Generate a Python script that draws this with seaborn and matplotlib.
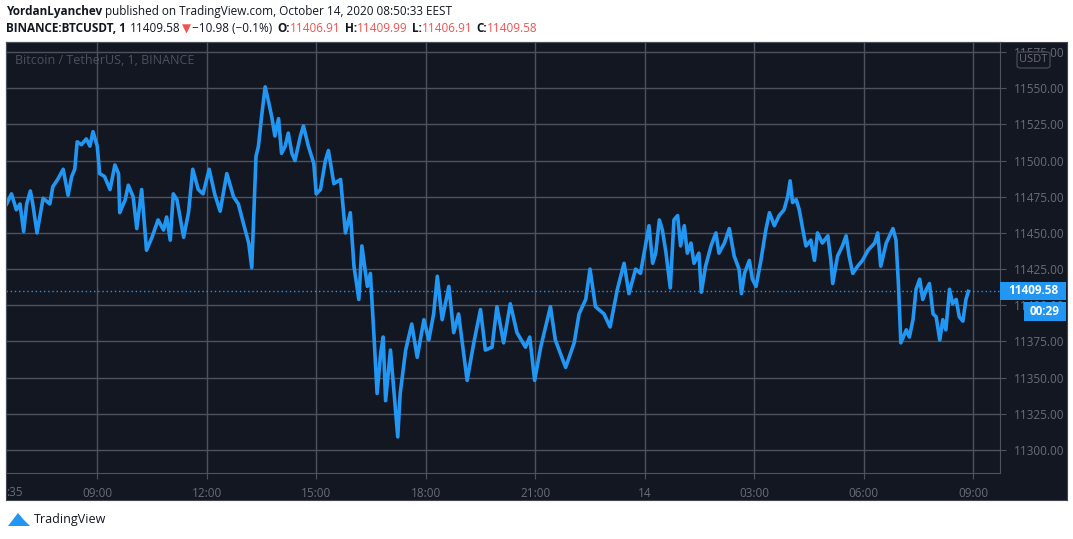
import numpy as np
import pandas as pd
import matplotlib
matplotlib.use("Agg")
import matplotlib.pyplot as plt
from matplotlib.patches import Rectangle, FancyBboxPatch
import seaborn as sns

# Oct 13 (HH:MM) and prices
times13 = ["06:31","06:39","06:47","06:53","06:59","07:04","07:10","07:14","07:21","07:31","07:42","07:47","07:55",
           "08:04","08:12","08:18","08:23","08:27","08:34","08:42","08:48","08:53","09:00","09:04","09:12","09:21",
           "09:29","09:35","09:37","09:46","09:51","09:59","10:05","10:13","10:21","10:30","10:40","10:49","10:54",
           "11:00","11:05","11:11","11:22","11:30","11:37","11:46","11:54","12:04","12:13","12:22","12:33","12:44",
           "12:52","13:00","13:09","13:14","13:18","13:21","13:25","13:30","13:36","13:42","13:47","13:52","13:58",
           "14:03","14:09","14:14","14:20","14:25","14:34","14:39","14:47","14:56","15:00","15:07","15:15","15:20",
           "15:29","15:40","15:48","15:56","16:02","16:10","16:15","16:24","16:29","16:35","16:40","16:46","16:50",
           "16:54","17:02","17:07","17:14","17:18","17:27","17:37","17:46","17:57","18:05","18:13","18:19","18:27",
           "18:38","18:46","18:54","19:08","19:19","19:30","19:38","19:49","19:57","20:08","20:19","20:30","20:44",
           "20:51","20:59","21:09","21:25","21:33","21:50","22:04","22:12","22:23","22:30","22:39","22:53","23:03",
           "23:15","23:26","23:34","23:45","23:53"]
prices13 = [11470,11477,11466,11470,11451,11470,11479,11470,11450,11474,11470,11482,11487,
            11494,11476,11489,11494,11513,11511,11515,11510,11520,11510,11491,11489,11480,
            11497,11491,11464,11473,11483,11475,11453,11480,11438,11447,11459,11452,11461,
            11445,11477,11473,11447,11464,11494,11480,11477,11494,11477,11465,11491,11475,
            11470,11457,11443,11426,11470,11503,11510,11530,11551,11540,11530,11517,11529,
            11505,11510,11519,11505,11500,11517,11524,11510,11498,11477,11480,11500,11507,
            11484,11487,11450,11464,11427,11404,11441,11413,11422,11378,11339,11367,11378,
            11334,11369,11344,11309,11339,11369,11387,11364,11390,11376,11394,11420,11390,
            11413,11381,11394,11348,11374,11397,11369,11371,11399,11374,11401,11381,11371,
            11378,11348,11371,11399,11376,11357,11374,11394,11404,11425,11399,11394,11385,
            11411,11429,11408,11425,11422]
# Oct 14
times14 = ["00:07","00:13","00:18","00:24","00:29","00:35","00:42","00:48","00:54","00:59","01:05","01:10",
           "01:16","01:21","01:29","01:33","01:40","01:49","01:57","02:02","02:11","02:19","02:27","02:35",
           "02:39","02:44","02:52","02:57","03:03","03:11","03:19","03:25","03:33","03:41","03:49","03:55",
           "03:59","04:03","04:09","04:14","04:20","04:25","04:33","04:39","04:44","04:52","05:01","05:06",
           "05:09","05:17","05:25","05:31","05:36","05:42","05:50","05:58","06:07","06:18","06:23","06:28",
           "06:37","06:48","06:53","06:57","07:01","07:10","07:15","07:21","07:26","07:32","07:37","07:43",
           "07:48","07:54","07:59","08:05","08:10","08:15","08:21","08:26","08:32","08:37","08:43","08:48","08:52"]
prices14 = [11455,11429,11436,11459,11452,11436,11412,11459,11462,11441,11455,11436,
            11443,11429,11436,11409,11427,11441,11450,11436,11443,11453,11434,11425,
            11408,11422,11431,11418,11413,11431,11452,11464,11455,11462,11466,11475,
            11486,11471,11473,11466,11452,11441,11445,11431,11450,11443,11448,11431,
            11415,11434,11441,11448,11434,11422,11427,11431,11438,11443,11450,11427,
            11443,11453,11445,11415,11374,11383,11378,11390,11411,11418,11404,11411,
            11415,11394,11392,11376,11390,11383,11411,11401,11404,11392,11389,11404,11409.58]

yticks = [11300,11325,11350,11375,11400,11425,11450,11475,11500,11525,11550,11575]
xtick_labels = ["09:00","12:00","15:00","18:00","21:00","14","03:00","06:00","09:00"]
last_price = 11409.58

def to_min(t, day):
    h, m = t.split(":")
    return day * 1440 + int(h) * 60 + int(m)

df = pd.DataFrame({
    "t": [to_min(t, 0) for t in times13] + [to_min(t, 1) for t in times14],
    "price": prices13 + prices14,
})

W, H = 1073, 539
plt.rcParams['font.family'] = ['Open Sans', 'DejaVu Sans']
fig = plt.figure(figsize=(W/100, H/100), dpi=100, facecolor="white")
BG = "#131722"; GRID = "#4e525e"; TXT = "#6a6d78"; BLUE = "#2196f3"
def fx(x): return x / W
def fy(y): return 1 - y / H

# background panel (price & time scales)
bgax = fig.add_axes([fx(6), fy(500), (1067-6)/W, (500-42)/H], zorder=0)
bgax.set_facecolor(BG); bgax.set_xticks([]); bgax.set_yticks([])
for s in bgax.spines.values():
    s.set_color("#434651")

ax = fig.add_axes([fx(6), fy(473), (1000-6)/W, (473-42)/H], zorder=1)
ax.set_facecolor(BG)
sns.lineplot(data=df, x="t", y="price", ax=ax, color=BLUE, lw=2.6)
ax.set_xlim(390, 2024)
ax.set_ylim(11284, 11582)
ax.set_yticks(yticks)
ax.set_yticklabels([f"{v:.2f}" for v in yticks])
ax.yaxis.tick_right()
xt = [540 + 180*i for i in range(9)]
ax.set_xticks(xt)
ax.set_xticklabels(xtick_labels)
ax.grid(True, color=GRID, lw=1)
ax.tick_params(colors=GRID, labelcolor=TXT, labelsize=8.5, length=4, pad=6)
for s in ax.spines.values():
    s.set_color(GRID)
ax.set_xlabel(""); ax.set_ylabel("")
ax.axhline(last_price, color=BLUE, ls=(0, (1, 2)), lw=1)
ax.text(0.0, -0.045, ":35", transform=ax.transAxes, color=TXT, fontsize=8.5, ha="left", va="center")
ax.text(9/994, 1-18/431, "Bitcoin / TetherUS, 1, BINANCE", transform=ax.transAxes, color="#4c5060",
        fontsize=9, ha="left", va="center")

# price label boxes
fig.patches.append(Rectangle((fx(1000), fy(300)), 66/W, 18/H, transform=fig.transFigure, facecolor=BLUE, zorder=5))
fig.text(fx(1033), fy(291), f"{last_price:.2f}", color="white", fontsize=8.5, fontweight="bold", ha="center", va="center", zorder=6)
fig.patches.append(Rectangle((fx(1024), fy(321)), 42/W, 19/H, transform=fig.transFigure, facecolor=BLUE, zorder=5))
fig.text(fx(1045), fy(311.5), "00:29", color="white", fontsize=8.5, fontweight="bold", ha="center", va="center", zorder=6)
fig.patches.append(FancyBboxPatch((fx(1017), fy(68)), 33/W, 16/H, boxstyle="round,pad=0,rounding_size=0.004",
                                  transform=fig.transFigure, facecolor=BG, edgecolor="#434651", zorder=5))
fig.text(fx(1033.5), fy(60), "USDT", color=TXT, fontsize=8, ha="center", va="center", zorder=6)

# header laid out sequentially
fig.canvas.draw()
r = fig.canvas.get_renderer()
def line(y, parts, x0=6, hs=8.5):
    x = x0
    for s, c, w, gap in parts:
        t = fig.text(fx(x), fy(y), s, fontsize=hs, color=c, fontweight=w, va="center")
        x += t.get_window_extent(r).width + gap
RED = "#ef5350"; K = "#131722"
line(12, [("YordanLyanchev", K, "bold", 3),
          ("published on TradingView.com, October 14, 2020 08:50:33 EEST", K, "normal", 0)])
line(29, [("BINANCE:BTCUSDT, 1", K, "bold", 4), ("11409.58", K, "normal", 1),
          ("▼", RED, "normal", 2), ("−10.98 (−0.1%)", K, "normal", 5),
          ("O:", K, "bold", 0), ("11406.91", RED, "normal", 4),
          ("H:", K, "bold", 0), ("11409.99", RED, "normal", 4),
          ("L:", K, "bold", 0), ("11406.91", RED, "normal", 4),
          ("C:", K, "bold", 0), ("11409.58", RED, "normal", 0)])

# footer
fig.patches.append(plt.Polygon([[fx(8), fy(526)], [fx(18), fy(513)], [fx(24), fy(520)], [fx(30), fy(526)]],
                               closed=True, transform=fig.transFigure, facecolor=BLUE))
fig.text(fx(34), fy(520), "TradingView", fontsize=9, color=K, va="center")

fig.savefig("out.png", dpi=100, facecolor="white")
